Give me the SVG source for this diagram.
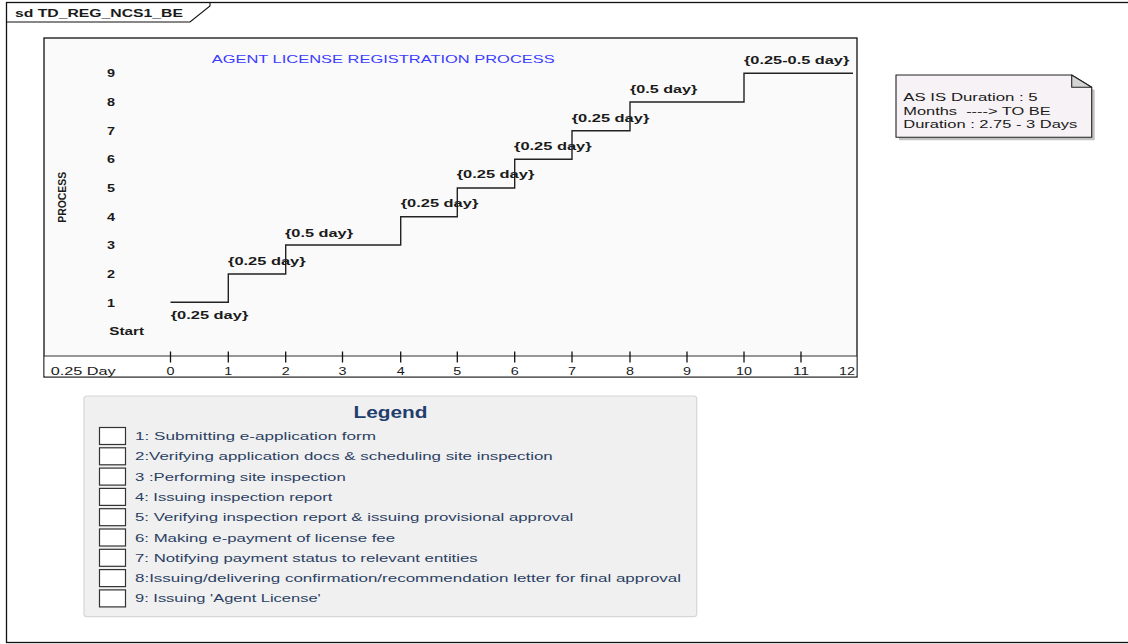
<svg xmlns="http://www.w3.org/2000/svg" width="1128" height="644" viewBox="0 0 1128 644">
<defs>
<style>
.t{font-family:"Liberation Sans",Arial,sans-serif;font-size:11px;fill:#1a1a1a}
.b{font-weight:bold}
.lg{font-family:"Liberation Sans",Arial,sans-serif;font-size:11px;fill:#2b3f63}
.tick{stroke:#111;stroke-width:1.3}
.box{fill:#ffffff;stroke:#333;stroke-width:1.2}
</style>
</defs>
<rect width="1128" height="644" fill="#ffffff"/>
<g id="frame">
<rect x="6.5" y="2.5" width="1130" height="640" fill="none" stroke="#111" stroke-width="1.3"/>
<polyline points="6.5,22 190,22 210,6 210,2.5" fill="none" stroke="#111" stroke-width="1.1"/>
<text class="t b" x="15" y="16.5" textLength="168" lengthAdjust="spacingAndGlyphs">sd TD_REG_NCS1_BE</text>
</g>
<g id="chart">
<rect x="44" y="38" width="813" height="339" fill="#fafafa" stroke="#111" stroke-width="1.3"/>
<rect x="44.6" y="356.5" width="811.8" height="19.8" fill="#ffffff"/>
<line x1="44" y1="356" x2="857" y2="356" stroke="#333" stroke-width="1.2"/>
<text x="211.7" y="63.3" textLength="343" lengthAdjust="spacingAndGlyphs" style="font-family:'Liberation Sans',Arial,sans-serif;font-size:11px;fill:#3d3dff">AGENT LICENSE REGISTRATION PROCESS</text>
<text class="t b" transform="translate(65.5,197.3) rotate(-90)" text-anchor="middle" textLength="51" lengthAdjust="spacingAndGlyphs" style="font-size:10px">PROCESS</text>
<g class="t b">
<text x="107" y="77.3" textLength="8" lengthAdjust="spacingAndGlyphs">9</text>
<text x="107" y="106" textLength="8" lengthAdjust="spacingAndGlyphs">8</text>
<text x="107" y="134.7" textLength="8" lengthAdjust="spacingAndGlyphs">7</text>
<text x="107" y="163.3" textLength="8" lengthAdjust="spacingAndGlyphs">6</text>
<text x="107" y="192" textLength="8" lengthAdjust="spacingAndGlyphs">5</text>
<text x="107" y="220.7" textLength="8" lengthAdjust="spacingAndGlyphs">4</text>
<text x="107" y="249" textLength="8" lengthAdjust="spacingAndGlyphs">3</text>
<text x="107" y="278" textLength="8" lengthAdjust="spacingAndGlyphs">2</text>
<text x="107" y="306.7" textLength="8" lengthAdjust="spacingAndGlyphs">1</text>
<text x="109.3" y="335" textLength="34.7" lengthAdjust="spacingAndGlyphs">Start</text>
</g>
<g class="t b">
<text x="170.7" y="319" textLength="77.6" lengthAdjust="spacingAndGlyphs">{0.25 day}</text>
<text x="228" y="264.7" textLength="77.6" lengthAdjust="spacingAndGlyphs">{0.25 day}</text>
<text x="285" y="236.7" textLength="68" lengthAdjust="spacingAndGlyphs">{0.5 day}</text>
<text x="400.7" y="207" textLength="77.6" lengthAdjust="spacingAndGlyphs">{0.25 day}</text>
<text x="456.7" y="178" textLength="77.6" lengthAdjust="spacingAndGlyphs">{0.25 day}</text>
<text x="514" y="150" textLength="77.6" lengthAdjust="spacingAndGlyphs">{0.25 day}</text>
<text x="571.7" y="121.7" textLength="77.6" lengthAdjust="spacingAndGlyphs">{0.25 day}</text>
<text x="630" y="93" textLength="67.3" lengthAdjust="spacingAndGlyphs">{0.5 day}</text>
<text x="744" y="64" textLength="105.3" lengthAdjust="spacingAndGlyphs">{0.25-0.5 day}</text>
</g>
<path d="M170.5,302.3 H228.3 V274 H285.7 V245 H400.7 V216.7 H457.3 V188 H514.7 V159.3 H572 V130.7 H630 V102 H744 V73.3 H853" fill="none" stroke="#222" stroke-width="1.4"/>
<g class="tick">
<line x1="170.5" y1="351.5" x2="170.5" y2="362.5"/>
<line x1="228.3" y1="351.5" x2="228.3" y2="362.5"/>
<line x1="285.7" y1="351.5" x2="285.7" y2="362.5"/>
<line x1="342.5" y1="351.5" x2="342.5" y2="362.5"/>
<line x1="400.7" y1="351.5" x2="400.7" y2="362.5"/>
<line x1="457.3" y1="351.5" x2="457.3" y2="362.5"/>
<line x1="514.7" y1="351.5" x2="514.7" y2="362.5"/>
<line x1="572" y1="351.5" x2="572" y2="362.5"/>
<line x1="630" y1="351.5" x2="630" y2="362.5"/>
<line x1="687" y1="351.5" x2="687" y2="362.5"/>
<line x1="744" y1="351.5" x2="744" y2="362.5"/>
<line x1="801" y1="351.5" x2="801" y2="362.5"/>
</g>
<g class="t" text-anchor="middle">
<text x="170.5" y="375" textLength="8" lengthAdjust="spacingAndGlyphs">0</text>
<text x="228.3" y="375" textLength="8" lengthAdjust="spacingAndGlyphs">1</text>
<text x="285.7" y="375" textLength="8" lengthAdjust="spacingAndGlyphs">2</text>
<text x="342.5" y="375" textLength="8" lengthAdjust="spacingAndGlyphs">3</text>
<text x="400.7" y="375" textLength="8" lengthAdjust="spacingAndGlyphs">4</text>
<text x="457.3" y="375" textLength="8" lengthAdjust="spacingAndGlyphs">5</text>
<text x="514.7" y="375" textLength="8" lengthAdjust="spacingAndGlyphs">6</text>
<text x="572" y="375" textLength="8" lengthAdjust="spacingAndGlyphs">7</text>
<text x="630" y="375" textLength="8" lengthAdjust="spacingAndGlyphs">8</text>
<text x="687" y="375" textLength="8" lengthAdjust="spacingAndGlyphs">9</text>
<text x="744" y="375" textLength="16" lengthAdjust="spacingAndGlyphs">10</text>
<text x="801" y="375" textLength="16" lengthAdjust="spacingAndGlyphs">11</text>
<text x="847" y="375" textLength="16" lengthAdjust="spacingAndGlyphs">12</text>
</g>
<text class="t" x="50.7" y="375" textLength="65" lengthAdjust="spacingAndGlyphs">0.25 Day</text>
</g>
<g id="note">
<polygon points="899,78 1074.7,78 1094.7,90.3 1094.7,140.3 899,140.3" fill="#9a9a9a" opacity="0.6"/>
<polygon points="896,75 1071.7,75 1091.7,87.3 1091.7,137.3 896,137.3" fill="#f7f2f5" stroke="#222" stroke-width="1.1"/>
<polygon points="1071.7,75 1071.7,87.3 1091.7,87.3" fill="#d4d4d4" stroke="#222" stroke-width="1.1" stroke-linejoin="round"/>
<text class="t" x="903.3" y="100.7" textLength="134.4" lengthAdjust="spacingAndGlyphs">AS IS Duration : 5</text>
<text class="t" x="903.3" y="114.7" textLength="147.4" lengthAdjust="spacingAndGlyphs" xml:space="preserve">Months  ----&gt; TO BE</text>
<text class="t" x="903.3" y="128" textLength="174" lengthAdjust="spacingAndGlyphs">Duration : 2.75 - 3 Days</text>
</g>
<g id="legend">
<rect x="84" y="396" width="612.7" height="220.7" rx="3" fill="#f0f0f0" stroke="#d6d6d6" stroke-width="1.2"/>
<text x="390.5" y="418" text-anchor="middle" textLength="74" lengthAdjust="spacingAndGlyphs" style="font-family:'Liberation Sans',Arial,sans-serif;font-size:16px;font-weight:bold;fill:#1f3e6e">Legend</text>
<rect class="box" x="99.5" y="427.5" width="26" height="17"/>
<rect class="box" x="99.5" y="447.8" width="26" height="17"/>
<rect class="box" x="99.5" y="468.1" width="26" height="17"/>
<rect class="box" x="99.5" y="488.4" width="26" height="17"/>
<rect class="box" x="99.5" y="508.7" width="26" height="17"/>
<rect class="box" x="99.5" y="529" width="26" height="17"/>
<rect class="box" x="99.5" y="549.3" width="26" height="17"/>
<rect class="box" x="99.5" y="569.6" width="26" height="17"/>
<rect class="box" x="99.5" y="589.9" width="26" height="17"/>
<text class="lg" x="135" y="440" textLength="241" lengthAdjust="spacingAndGlyphs">1: Submitting e-application form</text>
<text class="lg" x="135" y="460.3" textLength="417.7" lengthAdjust="spacingAndGlyphs">2:Verifying application docs &amp; scheduling site inspection</text>
<text class="lg" x="135" y="480.6" textLength="210.7" lengthAdjust="spacingAndGlyphs">3 :Performing site inspection</text>
<text class="lg" x="135" y="500.9" textLength="197.3" lengthAdjust="spacingAndGlyphs">4: Issuing inspection report</text>
<text class="lg" x="135" y="521.2" textLength="438.3" lengthAdjust="spacingAndGlyphs">5: Verifying inspection report &amp; issuing provisional approval</text>
<text class="lg" x="135" y="541.5" textLength="260" lengthAdjust="spacingAndGlyphs">6: Making e-payment of license fee</text>
<text class="lg" x="135" y="561.8" textLength="342.7" lengthAdjust="spacingAndGlyphs">7: Notifying payment status to relevant entities</text>
<text class="lg" x="135" y="582.1" textLength="546" lengthAdjust="spacingAndGlyphs">8:Issuing/delivering confirmation/recommendation letter for final approval</text>
<text class="lg" x="135" y="602.4" textLength="185.7" lengthAdjust="spacingAndGlyphs">9: Issuing 'Agent License'</text>
</g>
</svg>
